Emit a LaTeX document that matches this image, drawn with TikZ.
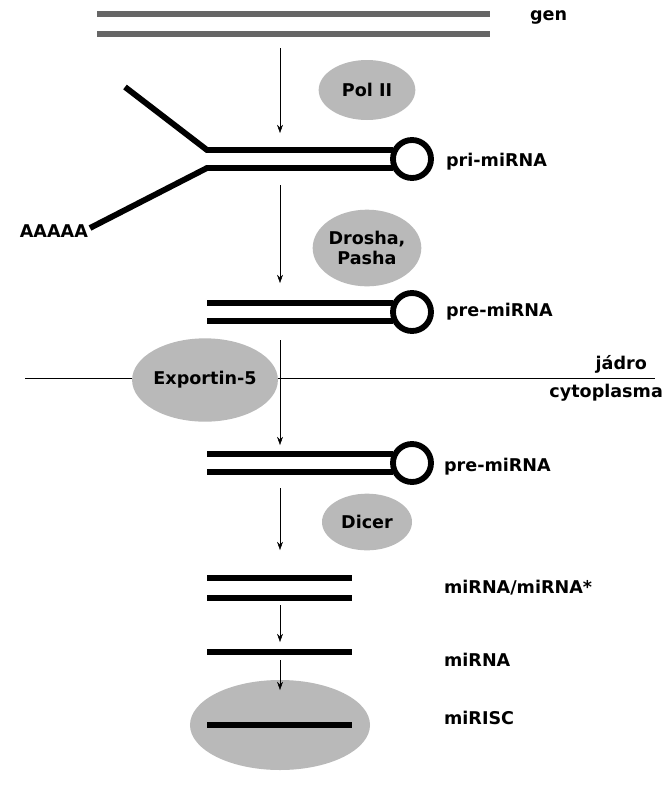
\documentclass[tikz,border=0pt]{standalone}
\usepackage{fontspec}
\setmainfont{DejaVu Sans}
\usetikzlibrary{arrows.meta,shapes.geometric}
\tikzset
{
  StrandStyle/.style =
  {
    line width = 5pt,
  },
  GrayStrandStyle/.style =
  {
    line width = 5pt,
    draw = gray!80!black,
  },
  ProteinStyle/.style =
  {
    shape = ellipse,
    fill = gray!55,
    align = center,
    inner sep = 0pt,
    font = \fontsize{15}{17}\selectfont\bfseries,
  },
  LabelStyle/.style =
  {
    anchor = west,
    font = \fontsize{15}{17}\selectfont\bfseries,
  },
  StepArrowStyle/.style =
  {
    -{Stealth[length=7pt,width=5pt]},
    thin,
  }
}

\begin{document}
\begin{tikzpicture}[x=0.03cm, y=-0.03cm]
  \useasboundingbox (0,0) rectangle (667,800);

  % gen
  \draw[GrayStrandStyle] (97,14) -- (490,14);
  \draw[GrayStrandStyle] (97,34) -- (490,34);
  \node[LabelStyle] (gen) at (526,17) {gen};

  \coordinate (a1s) at (280,48);
  \coordinate (a1e) at (280,133);
  \draw[StepArrowStyle] (a1s) -- (a1e);
  \node[ProteinStyle, minimum width=2.9cm, minimum height=1.8cm] (polii) at (367,90) {Pol II};

  % pri-miRNA
  \draw[StrandStyle] (125,87) -- (207,150) -- (393,150);
  \draw[StrandStyle] (90,228) -- (207,168) -- (393,168);
  \draw[StrandStyle] (412,159) circle (19);
  \node[LabelStyle] (prilabel) at (442,162) {pri-miRNA};
  \node[LabelStyle, anchor=east] (polya) at (92,231) {AAAAA};

  \coordinate (a2s) at (280,185);
  \coordinate (a2e) at (280,283);
  \draw[StepArrowStyle] (a2s) -- (a2e);
  \node[ProteinStyle, minimum width=3cm, minimum height=2.3cm] (drosha) at (367,248) {Drosha,\\Pasha};

  % pre-miRNA (jadro)
  \draw[StrandStyle] (207,303) -- (393,303);
  \draw[StrandStyle] (207,321) -- (393,321);
  \draw[StrandStyle] (412,312) circle (19);
  \node[LabelStyle] (pre1) at (442,312) {pre-miRNA};

  \coordinate (a3s) at (280,340);
  \coordinate (a3e) at (280,445);
  \draw[StepArrowStyle] (a3s) -- (a3e);

  % nuclear envelope
  \coordinate (mL) at (25,378);
  \coordinate (mR) at (655,378);
  \draw[thick] (mL) -- (mR);
  \node[LabelStyle, anchor=east] (jadro) at (651,364) {jádro};
  \node[LabelStyle, anchor=east] (cyto) at (667,393) {cytoplasma};
  \node[ProteinStyle, minimum width=3.4cm, minimum height=2.5cm] (exportin) at (205,380) {Exportin-5};

  % pre-miRNA (cytoplasma)
  \draw[StrandStyle] (207,454) -- (393,454);
  \draw[StrandStyle] (207,472) -- (393,472);
  \draw[StrandStyle] (412,463) circle (19);
  \node[LabelStyle] (pre2) at (440,467) {pre-miRNA};

  \coordinate (a4s) at (280,488);
  \coordinate (a4e) at (280,550);
  \draw[StepArrowStyle] (a4s) -- (a4e);
  \node[ProteinStyle, minimum width=2.7cm, minimum height=1.7cm] (dicer) at (367,522) {Dicer};

  % duplex
  \draw[StrandStyle] (207,578) -- (352,578);
  \draw[StrandStyle] (207,598) -- (352,598);
  \node[LabelStyle] (duplex) at (440,588) {miRNA/miRNA*};

  \coordinate (a5s) at (280,605);
  \coordinate (a5e) at (280,642);
  \draw[StepArrowStyle] (a5s) -- (a5e);

  % mature miRNA
  \draw[StrandStyle] (207,652) -- (352,652);
  \node[LabelStyle] (mirna) at (440,660) {miRNA};

  % miRISC
  \node[ProteinStyle, minimum width=5.4cm, minimum height=2.7cm] (mirisc) at (280,725) {};
  \draw[StrandStyle] (207,725) -- (352,725);
  \node[LabelStyle] (risclabel) at (440,718) {miRISC};

  \coordinate (a6s) at (280,660);
  \coordinate (a6e) at (280,690);
  \draw[StepArrowStyle] (a6s) -- (a6e);
\end{tikzpicture}
\end{document}
